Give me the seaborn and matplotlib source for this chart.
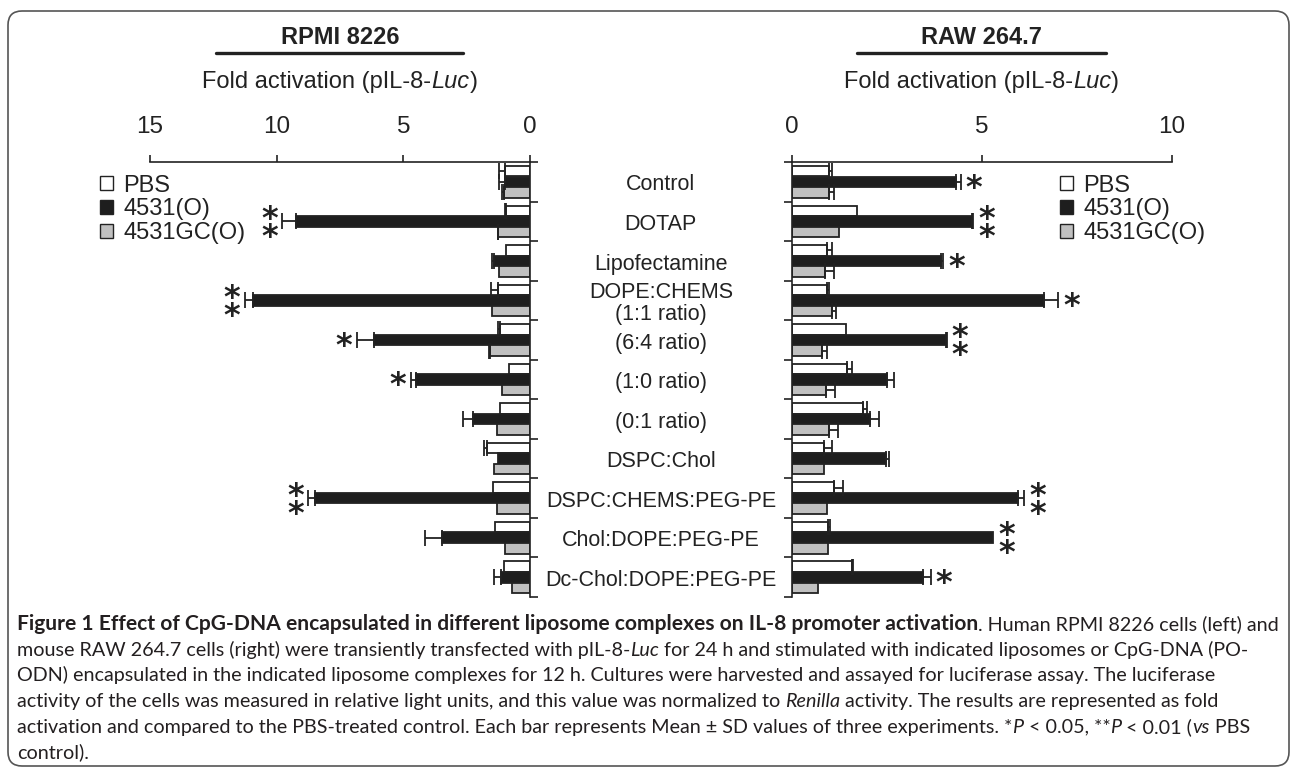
import matplotlib
matplotlib.use("Agg")
import matplotlib.pyplot as plt
import numpy as np
import pandas as pd
import seaborn as sns
from matplotlib.lines import Line2D
from matplotlib.patches import FancyBboxPatch
from matplotlib.transforms import IdentityTransform, offset_copy

W, H = 1292, 774

categories = ["Control", "DOTAP", "Lipofectamine", "DOPE:CHEMS\n(1:1 ratio)",
              "(6:4 ratio)", "(1:0 ratio)", "(0:1 ratio)", "DSPC:Chol",
              "DSPC:CHEMS:PEG-PE", "Chol:DOPE:PEG-PE", "Dc-Chol:DOPE:PEG-PE"]
treatments = ["PBS", "4531(O)", "4531GC(O)"]

# RPMI 8226 (left panel)
rpmi_pbs = [1.00, 0.95, 0.95, 1.25, 1.18, 0.82, 1.18, 1.71, 1.47, 1.38, 1.03]
rpmi_pbs_sd = [0.22, 0.03, 0.0, 0.29, 0.09, 0.0, 0.0, 0.11, 0.0, 0.0, 0.0]
rpmi_o = [1.00, 9.25, 1.41, 10.92, 6.15, 4.51, 2.24, 1.28, 8.49, 3.46, 1.14]
rpmi_o_sd = [0.23, 0.53, 0.09, 0.33, 0.69, 0.19, 0.39, 0.0, 0.26, 0.68, 0.28]
rpmi_gc = [1.03, 1.25, 1.21, 1.49, 1.58, 1.12, 1.32, 1.41, 1.32, 0.99, 0.72]
rpmi_gc_sd = [0.08, 0.03, 0.0, 0.0, 0.03, 0.0, 0.0, 0.0, 0.0, 0.0, 0.0]
rpmi_sig = ["", "**", "", "**", "*", "*", "", "", "**", "", ""]

# RAW 264.7 (right panel)
raw_pbs = [0.99, 1.73, 0.92, 0.94, 1.43, 1.45, 1.87, 0.86, 1.10, 0.96, 1.58]
raw_pbs_sd = [0.07, 0.0, 0.13, 0.05, 0.0, 0.14, 0.10, 0.20, 0.24, 0.05, 0.04]
raw_o = [4.32, 4.74, 3.92, 6.64, 4.05, 2.50, 2.06, 2.47, 5.95, 5.31, 3.45]
raw_o_sd = [0.14, 0.04, 0.07, 0.38, 0.03, 0.18, 0.23, 0.10, 0.17, 0.0, 0.21]
raw_gc = [0.99, 1.25, 0.88, 1.07, 0.79, 0.89, 0.98, 0.85, 0.94, 0.95, 0.70]
raw_gc_sd = [0.12, 0.0, 0.22, 0.09, 0.13, 0.26, 0.24, 0.0, 0.0, 0.0, 0.0]
raw_sig = ["*", "**", "*", "*", "**", "", "", "", "**", "**", "*"]

EDGE = "#222222"
colors = {"PBS": "#ffffff", "4531(O)": "#1e1e1e", "4531GC(O)": "#c0c0c0"}

sns.set_theme(style="white")
plt.rcParams["font.family"] = ["Liberation Sans", "DejaVu Sans"]
plt.rcParams["text.color"] = EDGE
plt.rcParams["axes.edgecolor"] = EDGE
plt.rcParams["xtick.color"] = EDGE
plt.rcParams["ytick.color"] = EDGE


def long_table(pbs, o, gc):
    rows = []
    for t, vals in zip(treatments, (pbs, o, gc)):
        for c, v in zip(categories, vals):
            rows.append({"category": c, "treatment": t, "fold": v})
    return pd.DataFrame(rows)


def seg_width(fig, renderer, s, kw):
    a = fig.text(0, 0, "x" + s + "x", transform=IdentityTransform(), **kw)
    b = fig.text(0, 0, "xx", transform=IdentityTransform(), **kw)
    w = a.get_window_extent(renderer).width - b.get_window_extent(renderer).width
    a.remove()
    b.remove()
    return w


def rich_line(fig, renderer, parts, x, y_img, ha="left", **common):
    texts, widths = [], []
    for s, kw in parts:
        style = {**common, **kw}
        t = fig.text(0, 0, s, transform=IdentityTransform(), ha="left", va="baseline", **style)
        texts.append(t)
        widths.append(seg_width(fig, renderer, s, style))
    start = x - sum(widths) / 2 if ha == "center" else x
    for t, w in zip(texts, widths):
        t.set_position((start, H - y_img))
        start += w


def draw_panel(ax, pbs, o, gc, sds, sig, xmax, side):
    df = long_table(pbs, o, gc)
    sns.barplot(data=df, x="fold", y="category", hue="treatment", order=categories,
                hue_order=treatments, palette=colors, errorbar=None, edgecolor=EDGE,
                linewidth=1.3, width=0.8, orient="h", ax=ax)
    for cont, sd in zip(ax.containers, sds):
        for bar, e in zip(cont, sd):
            if e <= 0:
                continue
            ax.errorbar(bar.get_width(), bar.get_y() + bar.get_height() / 2,
                        xerr=[[0], [e]], fmt="none", ecolor=EDGE, elinewidth=1.3,
                        capsize=5.5, capthick=1.3, zorder=5)
    handles, labels = ax.get_legend_handles_labels()
    ax.get_legend().remove()

    n = len(categories)
    ax.set_ylim(n - 0.5, -0.5)
    ax.set_yticks(np.arange(-0.5, n, 1.0))
    ax.set_yticklabels([])
    ax.set_xticks([0, 5, 10, 15][: 3 if xmax == 10 else 4])
    ax.set_xlabel("")
    ax.set_ylabel("")
    ax.xaxis.tick_top()
    ax.tick_params(axis="x", direction="out", length=5, width=1.2, pad=12,
                   labelsize=17.5, top=True, bottom=False, labeltop=True, labelbottom=False)
    ax.spines["bottom"].set_visible(False)
    for sp in ax.spines.values():
        sp.set_linewidth(1.2)
    if side == "left":
        ax.set_xlim(xmax, 0)
        ax.yaxis.tick_right()
        ax.spines["left"].set_visible(False)
        ax.tick_params(axis="y", direction="out", length=6, width=1.2,
                       right=True, left=False, labelright=False, labelleft=False)
        sign = -1
    else:
        ax.set_xlim(0, xmax)
        ax.spines["right"].set_visible(False)
        ax.tick_params(axis="y", direction="out", length=6, width=1.2,
                       left=True, right=False, labelleft=False, labelright=False)
        sign = 1

    # significance stars next to the 4531(O) bars (stacked when two);
    # va="baseline" pins the last line, so a pair is shifted down by half its spacing
    for i, (v, e, m) in enumerate(zip(o, sds[1], sig)):
        if not m:
            continue
        dy = -15 - (9.5 if len(m) == 2 else 0)
        tr = offset_copy(ax.transData, fig=ax.figure, x=sign * 13, y=dy, units="dots")
        ax.text(v + e, i, "\n".join(["*"] * len(m)), transform=tr, ha="center",
                va="baseline", linespacing=0.46, fontsize=23, fontweight="bold",
                family="DejaVu Sans", color=EDGE)
    return handles, labels


fig = plt.figure(figsize=(W / 100, H / 100), dpi=100)
renderer = fig.canvas.get_renderer()

ax_l = fig.add_axes([150 / W, 1 - 597 / H, 380 / W, 435 / H])
ax_r = fig.add_axes([791.7 / W, 1 - 597 / H, 380 / W, 435 / H])

handles, labels = draw_panel(ax_l, rpmi_pbs, rpmi_o, rpmi_gc,
                             [rpmi_pbs_sd, rpmi_o_sd, rpmi_gc_sd], rpmi_sig, 15, "left")
draw_panel(ax_r, raw_pbs, raw_o, raw_gc,
           [raw_pbs_sd, raw_o_sd, raw_gc_sd], raw_sig, 10, "right")

for ax, x0 in ((ax_l, 100 / W), (ax_r, 1060 / W)):
    leg = ax.legend(handles, labels, loc="upper left", bbox_to_anchor=(x0, 1 - 174.5 / H),
                    bbox_transform=fig.transFigure, frameon=False, fontsize=17,
                    handlelength=0.55, handleheight=0.55, handletextpad=0.45,
                    labelspacing=0.08, borderpad=0, borderaxespad=0)
    for p in leg.get_patches():
        p.set_linewidth(1.0)

# category names between the panels
xc = (660.85 - 150) / 380
for i, cat in enumerate(categories):
    ax_l.text(xc, i + 0.08, cat, transform=ax_l.get_yaxis_transform(), ha="center",
              va="center", fontsize=15.5, linespacing=1.05)

# panel headers
for cx, name, (u0, u1) in ((340, "RPMI 8226", (216, 463)), (981.7, "RAW 264.7", (857, 1106))):
    fig.text(cx / W, 1 - 44 / H, name, ha="center", va="baseline", fontsize=17,
             fontweight="bold")
    fig.add_artist(Line2D([u0 / W, u1 / W], [1 - 53.3 / H] * 2, transform=fig.transFigure,
                          color=EDGE, lw=2.4))
    rich_line(fig, renderer, [("Fold activation (pIL-8-", {}), ("Luc", {"style": "italic"}),
                              (")", {})], cx, 88, ha="center", fontsize=17)

# caption
cap = dict(family="Lato", fontsize=14.2, color="#231f20")
it = {"style": "italic"}
lines = [
    [("Figure 1 Effect of CpG-DNA encapsulated in different liposome complexes on IL-8 promoter activation",
      {"weight": "bold", "fontsize": 15.1}), (". Human RPMI 8226 cells (left) and", {})],
    [("mouse RAW 264.7 cells (right) were transiently transfected with pIL-8-", {}), ("Luc", it),
     (" for 24 h and stimulated with indicated liposomes or CpG-DNA (PO-", {})],
    [("ODN) encapsulated in the indicated liposome complexes for 12 h. Cultures were harvested and assayed for luciferase assay. The luciferase", {})],
    [("activity of the cells was measured in relative light units, and this value was normalized to ", {}),
     ("Renilla", it), (" activity. The results are represented as fold", {})],
    [("activation and compared to the PBS-treated control. Each bar represents Mean \u00b1 SD values of three experiments. *", {}),
     ("P", it), (" < 0.05, **", {}), ("P", it), (" < 0.01 (", {}), ("vs", it), (" PBS", {})],
    [("control).", {})],
]
for k, parts in enumerate(lines):
    rich_line(fig, renderer, parts, 17, 630 + 25.7 * k, **cap)

frame = FancyBboxPatch((8, 8), 1281, 755, boxstyle="round,pad=0,rounding_size=14",
                       transform=IdentityTransform(), fill=False, edgecolor="#555555", lw=1.2)
fig.add_artist(frame)

fig.savefig("out.png", dpi=100)
